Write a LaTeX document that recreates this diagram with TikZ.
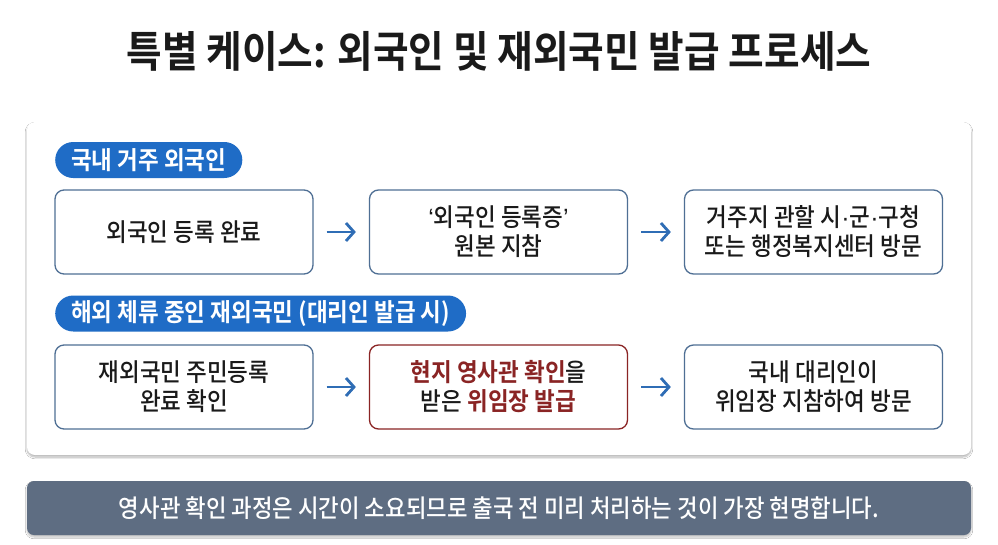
\documentclass[tikz,border=0pt]{standalone}
\usepackage{fontspec}
\newfontfamily\kr[FakeStretch=0.9]{Noto Sans CJK KR}
\newfontfamily\krb[FakeStretch=0.9]{Noto Sans CJK KR Bold}
\newfontfamily\krm[FakeStretch=0.9]{Noto Sans CJK KR Medium}
\newfontfamily\lat{Liberation Sans}
\newcommand{\mymdot}{{\lat\char"00B7}}
\newcommand{\mylq}{{\lat\char"2018}}
\newcommand{\myrq}{{\lat\char"2019}}
\usetikzlibrary{shadows.blur,arrows.meta}
\definecolor{pillblue}{HTML}{1F6CC6}
\definecolor{boxline}{HTML}{4F6F94}
\definecolor{arrowblue}{HTML}{2F6DB5}
\definecolor{darkred}{HTML}{8A2424}
\definecolor{barfill}{HTML}{5E6D82}
\definecolor{titlec}{HTML}{1A1A1A}
\tikzset{
  stepbox/.style={draw=boxline, line width=1.3pt, rounded corners=9pt, fill=white,
    minimum width=258pt, minimum height=84pt, align=center, text=titlec,
    font=\krm\fontsize{25}{29}\selectfont, inner sep=0pt},
  redbox/.style={stepbox, draw=darkred},
  pill/.style={fill=pillblue, rounded corners=18pt, minimum height=36pt, text=white,
    font=\krb\fontsize{25}{27}\selectfont, inner xsep=16pt, inner ysep=0pt, anchor=west},
  flow/.style={-{Straight Barb[length=8pt,width=18pt]}, draw=arrowblue, line width=2.8pt,
    shorten <=13pt, shorten >=13pt}
}
\begin{document}
\begin{tikzpicture}[x=1pt,y=-1pt]
\useasboundingbox (0,0) rectangle (998,544);
\fill[white] (0,0) rectangle (998,544);
\node[font=\krb\fontsize{43}{48}\selectfont, text=titlec] (title) at (499,51) {특별 케이스: 외국인 및 재외국민 발급 프로세스};
% panel
\node[draw=none, fill=white, rounded corners=8pt, minimum width=944pt, minimum height=333pt,
  blur shadow={shadow blur steps=8, shadow xshift=0pt, shadow yshift=-2pt, shadow opacity=30}] (panel) at (499,288.5) {};
% section 1
\node[pill] (p1) at (55,160) {국내 거주 외국인};
\node[stepbox] (a1) at (184,232) {외국인 등록 완료};
\node[stepbox] (a2) at (498.5,232) {\mylq 외국인 등록증\myrq\\원본 지참};
\node[stepbox] (a3) at (813.5,232) {거주지 관할 시\mymdot 군\mymdot 구청\\또는 행정복지센터 방문};
\draw[flow] (a1) -- (a2);
\draw[flow] (a2) -- (a3);
% section 2
\node[pill] (p2) at (55,313.5) {해외 체류 중인 재외국민 (대리인 발급 시)};
\node[stepbox] (b1) at (184,387) {재외국민 주민등록\\완료 확인};
\node[redbox] (b2) at (498.5,387) {\krb\textcolor{darkred}{현지 영사관 확인}\krm 을\\받은 \krb\textcolor{darkred}{위임장 발급}};
\node[stepbox] (b3) at (813.5,387) {국내 대리인이\\위임장 지참하여 방문};
\draw[flow] (b1) -- (b2);
\draw[flow] (b2) -- (b3);
% bottom bar
\node[fill=barfill, rounded corners=7pt, minimum width=944pt, minimum height=54pt,
  text=white, font=\krm\fontsize{24.8}{28}\selectfont,
  blur shadow={shadow blur steps=6, shadow xshift=0pt, shadow yshift=-2pt, shadow opacity=25}] (bar) at (499,508) {영사관 확인 과정은 시간이 소요되므로 출국 전 미리 처리하는 것이 가장 현명합니다.};
\end{tikzpicture}
\end{document}
